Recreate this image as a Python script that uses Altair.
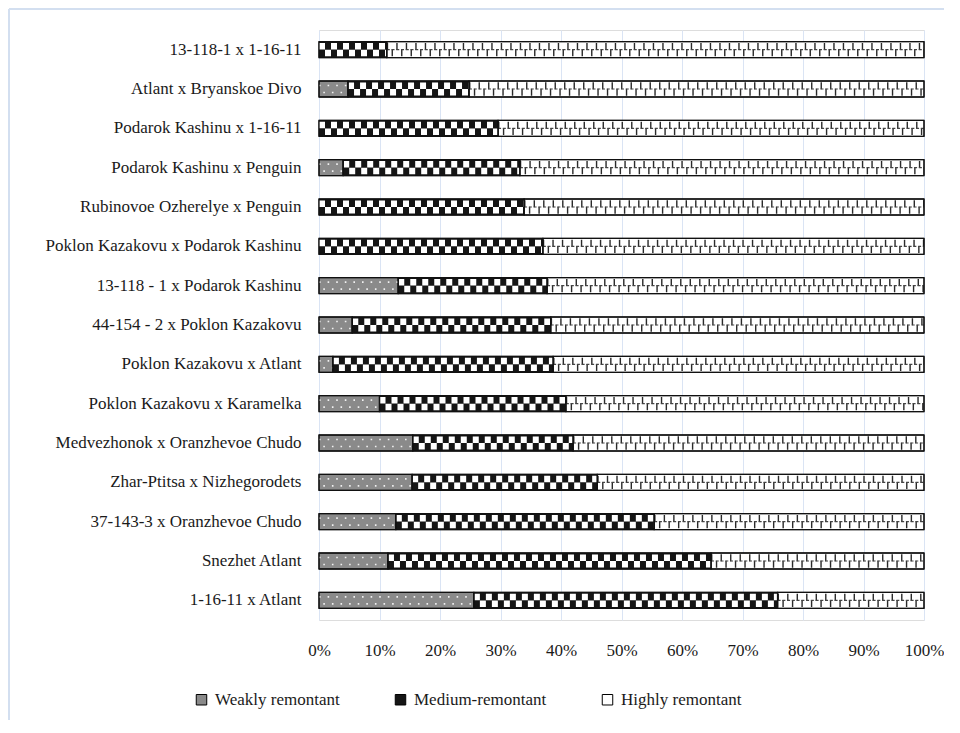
import altair as alt
import pandas as pd

crosses = [
    "13-118-1 x 1-16-11",
    "Atlant x Bryanskoe Divo",
    "Podarok Kashinu x 1-16-11",
    "Podarok Kashinu x Penguin",
    "Rubinovoe Ozherelye x Penguin",
    "Poklon Kazakovu x Podarok Kashinu",
    "13-118 - 1 x Podarok Kashinu",
    "44-154 - 2 x Poklon Kazakovu",
    "Poklon Kazakovu x Atlant",
    "Poklon Kazakovu x Karamelka",
    "Medvezhonok x Oranzhevoe Chudo",
    "Zhar-Ptitsa x Nizhegorodets",
    "37-143-3 x Oranzhevoe Chudo",
    "Snezhet Atlant ",
    "1-16-11 x Atlant",
]
weak = [0, 4.8, 0, 4.0, 0, 0, 13.1, 5.5, 2.3, 10.0, 15.5, 15.4, 12.7, 11.4, 25.6]
medium = [11.2, 20.0, 29.6, 29.2, 33.9, 37.0, 24.6, 32.8, 36.4, 30.8, 26.5, 30.6, 42.7, 53.4, 50.2]
highly = [88.8, 75.2, 70.4, 66.8, 66.1, 63.0, 62.3, 61.7, 61.3, 59.2, 58.0, 54.0, 44.6, 35.2, 24.2]
stages = ["Weakly remontant", "Medium-remontant", "Highly remontant"]
tick_values = [0, 0.1, 0.2, 0.3, 0.4, 0.5, 0.6, 0.7, 0.8, 0.9, 1.0]

rows = []
for i, c in enumerate(crosses):
    for j, (s, v) in enumerate(zip(stages, (weak[i], medium[i], highly[i]))):
        rows.append({"cross": c, "stage": s, "order": j, "value": v})
df = pd.DataFrame(rows)

FONT = "Liberation Serif"
TXT = "#1a1a1a"

base = (
    alt.Chart(df)
    .transform_filter("datum.value > 0")
    .transform_stack(
        stack="value",
        groupby=["cross"],
        sort=[alt.SortField("order")],
        as_=["x0", "x1"],
        offset="normalize",
    )
)

x_enc = alt.X(
    "x0:Q",
    scale=alt.Scale(domain=[0, 1], nice=False),
    axis=alt.Axis(
        title=None,
        format="%",
        values=tick_values,
        grid=True,
        gridColor="#dae4f4",
        gridWidth=1,
        domain=False,
        ticks=False,
        labelFont=FONT,
        labelFontSize=17,
        labelColor=TXT,
        labelPadding=22,
        labelFlush=False,
        labelOverlap=False,
    ),
)
y_enc = alt.Y(
    "cross:N",
    sort=crosses,
    axis=alt.Axis(
        title=None,
        domain=False,
        ticks=False,
        grid=False,
        labelFont=FONT,
        labelFontSize=17,
        labelColor=TXT,
        labelPadding=18,
        labelLimit=400,
    ),
)

bars = base.mark_bar(size=16, stroke="#111", strokeWidth=1).encode(
    x=x_enc,
    x2="x1:Q",
    y=y_enc,
    color=alt.Color(
        "stage:N",
        scale=alt.Scale(domain=stages, range=["#8a8a8a", "#151515", "#ffffff"]),
        legend=alt.Legend(
            title=None,
            orient="none",
            legendX=-126,
            legendY=661,
            direction="horizontal",
            symbolType="square",
            symbolSize=110,
            symbolStrokeColor="#000",
            symbolStrokeWidth=1,
            labelFont=FONT,
            labelFontSize=17,
            labelColor=TXT,
            columnPadding=52,
            labelOffset=5,
        ),
    ),
)


def pattern(stage, color, width, dash, yoff, dash_offset=0):
    return (
        base.transform_filter(alt.datum.stage == stage)
        .mark_rule(
            color=color,
            strokeWidth=width,
            strokeDash=dash,
            strokeDashOffset=dash_offset,
            yOffset=yoff,
            strokeCap="butt",
        )
        .encode(x="x0:Q", x2="x1:Q", y=alt.Y("cross:N", sort=crosses))
    )


checker_top = pattern("Medium-remontant", "#ffffff", 6.5, [6, 6], -3.3, 0)
checker_bot = pattern("Medium-remontant", "#ffffff", 6.5, [6, 6], 3.3, 6)
dots_top = pattern("Weakly remontant", "#f2f2f2", 1.6, [1.6, 7], -3.5, 0)
dots_bot = pattern("Weakly remontant", "#f2f2f2", 1.6, [1.6, 7], 3.5, 4.3)
hatch_top = pattern("Highly remontant", "#2a2a2a", 7, [1.4, 8.1], -3.2, 0)
hatch_bot = pattern("Highly remontant", "#2a2a2a", 7, [1.4, 8.1], 3.2, 4.7)
hatch_mid = pattern("Highly remontant", "#444444", 1.1, [3, 1.75], 0, 0)

outline = base.mark_bar(size=16, filled=False, stroke="#111", strokeWidth=1.3).encode(
    x="x0:Q", x2="x1:Q", y=alt.Y("cross:N", sort=crosses)
)

border_left = alt.Chart(pd.DataFrame({"k": [0]})).mark_rule(
    color="#d3dff0", strokeWidth=2
).encode(x=alt.value(-310), y=alt.value(-21), y2=alt.value(702))
border_top = alt.Chart(pd.DataFrame({"k": [0]})).mark_rule(
    color="#d3dff0", strokeWidth=2
).encode(x=alt.value(-310), x2=alt.value(630), y=alt.value(-21))

chart = (
    alt.layer(
        bars, checker_top, checker_bot, dots_top, dots_bot,
        hatch_top, hatch_bot, hatch_mid, outline,
        border_left, border_top,
    )
    .properties(
        width=605,
        height=590,
        autosize=alt.AutoSizeParams(type="none"),
        padding={"left": 311, "top": 22, "right": 20, "bottom": 100},
    )
    .configure_view(stroke=None)
    .configure(background="#ffffff")
)

chart.save("out.html", embed_options={"renderer": "svg", "actions": False})
